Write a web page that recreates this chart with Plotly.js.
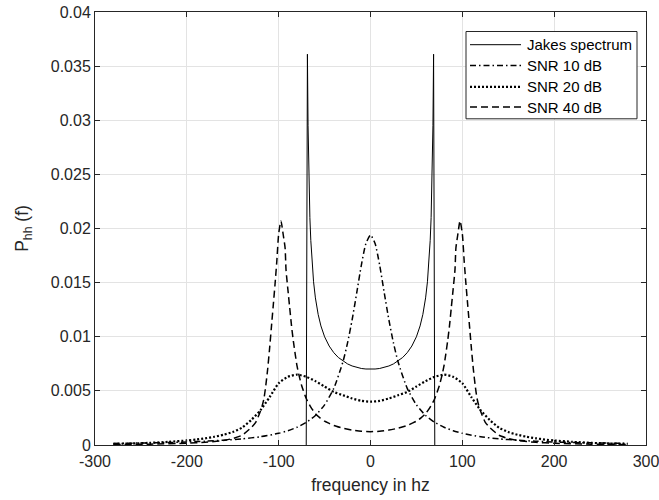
<!DOCTYPE html>
<html>
<head>
<meta charset="utf-8">
<script src="https://cdn.plot.ly/plotly-3.0.1.min.js"></script>
<style>html,body{margin:0;padding:0;background:#fff;}#chart{width:659px;height:500px;}</style>
</head>
<body>
<div id="chart"></div>
<script>
// ---- data ----
const jakesFreq = [-70, -68.7, -68, -67, -66, -65, -64, -62, -60, -57, -54, -50, -45, -40, -35, -30, -25, -20, -15, -10, -5, 0,
                   5, 10, 15, 20, 25, 30, 35, 40, 45, 50, 54, 57, 60, 62, 64, 65, 66, 67, 68, 68.7, 70];
const jakesVal  = [0, 0.0361, 0.0295, 0.0242, 0.0210, 0.0189, 0.01728, 0.01508, 0.01359, 0.01206, 0.0110, 0.0100, 0.00914, 0.00853, 0.00808, 0.00775, 0.00749, 0.00730, 0.00717, 0.00707, 0.00702, 0.00700,
                   0.00702, 0.00707, 0.00717, 0.00730, 0.00749, 0.00775, 0.00808, 0.00853, 0.00914, 0.0100, 0.0110, 0.01206, 0.01359, 0.01508, 0.01728, 0.0189, 0.0210, 0.0242, 0.0295, 0.0361, 0];

const snr10Freq = [-280, -260, -240, -220, -200, -180, -160, -140, -120, -100, -90, -80, -70, -60, -50, -40, -30, -25, -20, -15, -10, -5, 0,
                   5, 10, 15, 20, 25, 30, 40, 50, 60, 70, 80, 90, 100, 120, 140, 160, 180, 200, 220, 240, 260, 280];
const snr10Val  = [0.00015, 0.00017, 0.00020, 0.00023, 0.00028, 0.00035, 0.00044, 0.00057, 0.00076, 0.00108, 0.00132, 0.00164, 0.00209, 0.00273, 0.00371, 0.00523, 0.00769, 0.00943, 0.01157, 0.01405, 0.0166, 0.01861, 0.0194,
                   0.01861, 0.0166, 0.01405, 0.01157, 0.00943, 0.00769, 0.00523, 0.00371, 0.00273, 0.00209, 0.00164, 0.00132, 0.00108, 0.00076, 0.00057, 0.00044, 0.00035, 0.00028, 0.00023, 0.00020, 0.00017, 0.00015];

const snr20Freq = [-280, -260, -240, -220, -200, -190, -180, -170, -160, -150, -140, -130, -120, -110, -100, -90, -80, -70, -60, -50, -40, -30, -20, -10, 0,
                   10, 20, 30, 40, 50, 60, 70, 80, 90, 100, 110, 120, 130, 140, 150, 160, 170, 180, 190, 200, 220, 240, 260, 280];
const snr20Val  = [0.0001, 0.00014, 0.0002, 0.00029, 0.00042, 0.0005, 0.00062, 0.00076, 0.00095, 0.0012, 0.0016, 0.0023, 0.0032, 0.0044, 0.0057, 0.0063, 0.0065, 0.0063, 0.0059, 0.0054, 0.0049, 0.0046, 0.0043, 0.00408, 0.0040,
                   0.00408, 0.0043, 0.0046, 0.0049, 0.0054, 0.0059, 0.0063, 0.0065, 0.0063, 0.0057, 0.0044, 0.0032, 0.0023, 0.0016, 0.0012, 0.00095, 0.00076, 0.00062, 0.0005, 0.00042, 0.00029, 0.0002, 0.00014, 0.0001];

const snr40Freq = [-280, -240, -200, -180, -160, -150, -140, -130, -125, -120, -118, -116, -114, -112, -110, -108, -106, -104, -102, -100, -97.5, -95, -93, -92, -90, -88, -86, -84, -82, -80, -78, -75, -70, -65, -60, -55, -50, -45, -40, -30, -20, -10, 0,
                   10, 20, 30, 40, 45, 50, 55, 60, 65, 70, 75, 78, 80, 82, 84, 86, 88, 90, 92, 93, 95, 97.5, 100, 102, 104, 106, 108, 110, 112, 114, 116, 118, 120, 125, 130, 140, 150, 160, 180, 200, 240, 280];
const snr40Val  = [0.00005, 0.00008, 0.00016, 0.00025, 0.00042, 0.0006, 0.0009, 0.0016, 0.0021, 0.0031, 0.0036, 0.0043, 0.0055, 0.0070, 0.0088, 0.0108, 0.0128, 0.0148, 0.0170, 0.0195, 0.0207, 0.0194, 0.0182, 0.0162, 0.0144, 0.0127, 0.0110, 0.0096, 0.0084, 0.0073, 0.0065, 0.0055, 0.0043, 0.0035, 0.0029, 0.0025, 0.0022, 0.0020, 0.0018, 0.00155, 0.00138, 0.00127, 0.00123,
                   0.00127, 0.00138, 0.00155, 0.0018, 0.0020, 0.0022, 0.0025, 0.0029, 0.0035, 0.0043, 0.0055, 0.0065, 0.0073, 0.0084, 0.0096, 0.0110, 0.0127, 0.0144, 0.0162, 0.0182, 0.0194, 0.0207, 0.0195, 0.0170, 0.0148, 0.0128, 0.0108, 0.0088, 0.0070, 0.0055, 0.0043, 0.0036, 0.0031, 0.0021, 0.0016, 0.0009, 0.0006, 0.00042, 0.00025, 0.00016, 0.00008, 0.00005];

const seriesNames = ['Jakes spectrum', 'SNR 10 dB', 'SNR 20 dB', 'SNR 40 dB'];
const xTickVals = [-300, -200, -100, 0, 100, 200, 300];
const xTickText = ['-300', '-200', '-100', '0', '100', '200', '300'];
const yTickVals = [0, 0.005, 0.01, 0.015, 0.02, 0.025, 0.03, 0.035, 0.04];
const yTickText = ['0', '0.005', '0.01', '0.015', '0.02', '0.025', '0.03', '0.035', '0.04'];

// ---- chart ----
const FONT = 'Arial, "Liberation Sans", Helvetica, sans-serif';
const axisCol = '#262626';
const styles = [
  {color: '#000', width: 1, dash: 'solid'},
  {color: '#000', width: 1.5, dash: '6px,3px,1.5px,3px'},
  {color: '#000', width: 2.2, dash: '2px,2px'},
  {color: '#000', width: 1.5, dash: '7px,4px'}
];
const xs = [jakesFreq, snr10Freq, snr20Freq, snr40Freq];
const ys = [jakesVal, snr10Val, snr20Val, snr40Val];

const traces = xs.map((x, i) => ({
  x: x, y: ys[i], name: seriesNames[i], mode: 'lines', showlegend: false,
  line: Object.assign({}, styles[i], i === 0 ? {} : {shape: 'spline', smoothing: 0.6})
}));

// plot area in pixels: x 95..646, y 12..445
const L = 95, R = 646, T = 12, B = 445;
const px = v => (v - L) / (R - L);
const py = v => (B - v) / (B - T);

// hand-built legend box (MATLAB style)
const shapes = [{type: 'rect', xref: 'paper', yref: 'paper', x0: px(466), x1: px(637), y0: py(31.5), y1: py(118.8),
                 fillcolor: '#fff', line: {color: axisCol, width: 1}, layer: 'above'}];
const annotations = [];
const rowY = [44.7, 65.5, 86.8, 107];
seriesNames.forEach((n, i) => {
  shapes.push({type: 'line', xref: 'paper', yref: 'paper', x0: px(470), x1: px(521), y0: py(rowY[i]), y1: py(rowY[i]),
               line: {color: '#000', width: styles[i].width, dash: styles[i].dash}, layer: 'above'});
  annotations.push({xref: 'paper', yref: 'paper', x: px(524.5), y: py(rowY[i]), xanchor: 'left', yanchor: 'middle',
                    text: n, showarrow: false, font: {family: FONT, size: 15, color: '#000'}});
});

const layout = {
  width: 659, height: 500,
  margin: {l: L, r: 659 - R, t: T, b: 500 - B},
  paper_bgcolor: '#fff', plot_bgcolor: '#fff',
  font: {family: FONT, color: axisCol, size: 16},
  showlegend: false,
  shapes: shapes, annotations: annotations,
  xaxis: {range: [-300, 300], tickvals: xTickVals, ticktext: xTickText, ticklabeloverflow: 'allow',
          ticklabelstandoff: 2,
          showgrid: true, gridcolor: '#e3e3e3', gridwidth: 1, zeroline: false,
          showline: true, linecolor: axisCol, linewidth: 1, mirror: 'ticks',
          ticks: 'inside', ticklen: 5, tickcolor: axisCol,
          tickfont: {family: FONT, size: 16, color: axisCol},
          title: {text: 'frequency in hz', font: {family: FONT, size: 17.5, color: axisCol}, standoff: 9}},
  yaxis: {range: [0, 0.04], tickvals: yTickVals, ticktext: yTickText, ticklabeloverflow: 'allow',
          showgrid: true, gridcolor: '#e3e3e3', gridwidth: 1, zeroline: false,
          showline: true, linecolor: axisCol, linewidth: 1, mirror: 'ticks',
          ticks: 'inside', ticklen: 5, tickcolor: axisCol,
          tickfont: {family: FONT, size: 16, color: axisCol},
          title: {text: 'P<sub>hh</sub> (f)', font: {family: FONT, size: 17.5, color: axisCol}, standoff: 17}}
};

Plotly.newPlot('chart', traces, layout, {displayModeBar: false, staticPlot: true});
</script>
</body>
</html>
